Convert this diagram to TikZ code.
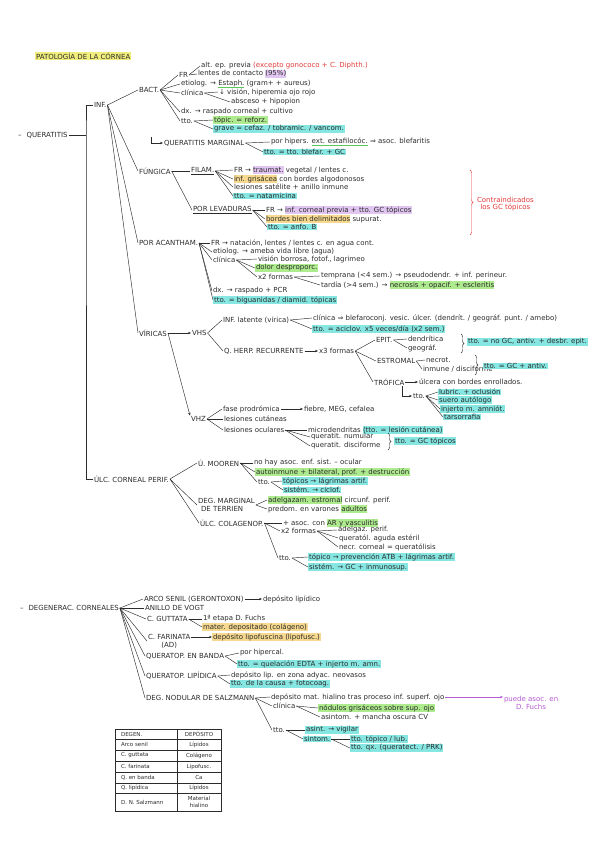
\documentclass[tikz,border=0pt]{standalone}
\usepackage{fontspec}
\setmainfont{DejaVu Sans}
\usetikzlibrary{arrows.meta}
\usetikzlibrary{decorations.pathreplacing}
\definecolor{ink}{HTML}{2B2B2B}
\definecolor{hlcyan}{HTML}{86E6E2}
\definecolor{hlgreen}{HTML}{AEEA8E}
\definecolor{hlyellow}{HTML}{F2EE7C}
\definecolor{hlorange}{HTML}{F6D88E}
\definecolor{hlpink}{HTML}{E2C6F2}
\definecolor{ulgreen}{HTML}{5CC85A}
\definecolor{inkred}{HTML}{E23A3A}
\definecolor{inkpurple}{HTML}{B35AD0}
\newcommand{\hlt}[2]{\setbox0\hbox{#2}\rlap{\color{#1}\rule[-1.7pt]{\wd0}{7.4pt}}\box0\relax}
\newcommand{\gul}[1]{\setbox0\hbox{#1}\rlap{\color{ulgreen}\rule[-1.6pt]{\wd0}{0.7pt}}\box0\relax}

\begin{document}
\begin{tikzpicture}[x=1pt,y=-1pt,color=ink,line width=0.45pt,
    every node/.style={anchor=west,inner xsep=0.8pt,inner ysep=0.6pt,font=\fontsize{7}{7.8}\selectfont},
    hlc/.style={fill=hlcyan}, hlg/.style={fill=hlgreen}, hlo/.style={fill=hlorange},
    flecha/.style={-{Stealth[length=3pt,width=2.4pt]}},
    llave/.style={decorate,decoration={brace,amplitude=3pt}}]
\useasboundingbox (0,0) rectangle (600,848);

\node[fill=hlyellow] (titulo) at (35,56) {PATOLOGÍA DE LA CÓRNEA};

% queratitis
\node (querat) at (17,135) {–\hspace{5pt}QUERATITIS};
\node (inf) at (93,105) {INF.};
\node (ulcp) at (93,479) {ÚLC. CORNEAL PERIF.};
\coordinate (tronco) at (86,135);
\draw (querat) -- (tronco);
\draw (inf.west) -| (tronco) |- (ulcp.west);

\node (bact) at (138,90) {BACT.};
\node (fung) at (138,171) {FÚNGICA};
\node (acanth) at (138,243) {POR ACANTHAM.};
\node (vir) at (138,333) {VÍRICAS};
\foreach \c in {bact,fung,acanth,vir} \draw (inf.east) -- (\c.west);

\node (fr1) at (178,75) {FR};
\node (etio1) at (180,84) {etiolog. → \gul{Estaph.} (gram+ + aureus)};
\node (clin1) at (180,93) {clínica};
\node (dx1) at (180,112) {dx. → raspado corneal + cultivo};
\node (tto1) at (180,121) {tto.};
\foreach \c in {fr1,etio1,clin1,dx1,tto1} \draw (bact.east) -- (\c.west);
\node (fr1a) at (200,66) {alt. ep. previa \textcolor{inkred}{(excepto gonococo + C. Diphth.)}};
\node (fr1b) at (197,74) {lentes de contacto \hlt{hlpink}{(95\%)}};
\foreach \c in {fr1a,fr1b} \draw (fr1.east) -- (\c.west);
\node (clin1a) at (218,92) {↓ visión, hiperemia ojo rojo};
\node (clin1b) at (230,102) {absceso + hipopion};
\foreach \c in {clin1a,clin1b} \draw (clin1.east) -- (\c.west);
\node[hlg] (tto1a) at (213,120) {tópic. = reforz.};
\node[hlc] (tto1b) at (213,129) {grave = cefaz. / tobramic. / vancom.};
\foreach \c in {tto1a,tto1b} \draw (tto1.east) -- (\c.west);

\coordinate (marg0) at (151,137);
\node (marg) at (163,143) {QUERATITIS MARGINAL};
\draw[flecha] (marg0) |- (marg.west);
\node (marga) at (270,142) {por hipers. \gul{ext. estafilocóc.} ⇒ asoc. blefaritis};
\node[hlc] (margb) at (263,152) {tto. = tto. blefar. + GC};
\foreach \c in {marga,margb} \draw (marg.east) -- (\c.west);

% fungicas
\node (filam) at (190,171) {\underline{FILAM.}};
\node (lev) at (192,210) {\underline{POR LEVADURAS}};
\foreach \c in {filam,lev} \draw (fung.east) -- (\c.west);
\node (filam1) at (233,170) {FR → \hlt{hlpink}{traumat.} vegetal / lentes c.};
\node (filam2) at (233,179) {\hlt{hlorange}{inf. grisácea} con bordes algodonosos};
\node (filam3) at (233,187) {lesiones satélite + anillo inmune};
\node[hlc] (filam4) at (233,196) {tto. = natamicina};
\foreach \c in {filam1,filam2,filam3,filam4} \draw (filam.east) -- (\c.west);
\node (lev1) at (265,210) {FR → \hlt{hlpink}{inf. corneal previa + tto. GC tópicos}};
\node (lev2) at (265,219) {\hlt{hlorange}{bordes bien delimitados} supurat.};
\node[hlc] (lev3) at (267,227) {tto. = anfo. B};
\foreach \c in {lev1,lev2,lev3} \draw (lev.east) -- (\c.west);
\draw[inkred,llave] (470,170) -- (470,235);
\node[text=inkred,align=center] (contra) at (476,204) {Contraindicados\\los GC tópicos};

% acanthamoeba
\node (acan1) at (210,243) {FR → natación, lentes / lentes c. en agua cont.};
\node (acan2) at (212,252) {etiolog. → ameba vida libre (agua)};
\node (acan3) at (212,260) {clínica};
\node (acan4) at (212,291) {dx. → raspado + PCR};
\node[hlc] (acan5) at (213,300) {tto. = biguanidas / diamid. tópicas};
\foreach \c in {acan1,acan2,acan3,acan4,acan5} \draw (acanth.east) -- (\c.west);
\node (acl1) at (257,259) {visión borrosa, fotof., lagrimeo};
\node[hlg] (acl2) at (255,268) {dolor desproporc.};
\node (acl3) at (257,277) {x2 formas};
\foreach \c in {acl1,acl2,acl3} \draw (acan3.east) -- (\c.west);
\node (forma1) at (320,276) {temprana (<4 sem.) → pseudodendr. + inf. perineur.};
\node (forma2) at (320,285) {tardía (>4 sem.) → \hlt{hlgreen}{necrosis + opacif. + escleritis}};
\foreach \c in {forma1,forma2} \draw (acl3.east) -- (\c.west);

% viricas
\node (vhs) at (191,333) {VHS};
\node (vhz) at (190,419) {VHZ};
\draw[flecha] (vir.east) -- (vhs.west);
\draw[flecha] (vir.east) -- (vhz.north west);
\node (vhs1) at (222,320) {INF. latente (vírica)};
\node (vhs2) at (223,351) {Q. HERP. RECURRENTE};
\foreach \c in {vhs1,vhs2} \draw (vhs.east) -- (\c.west);
\node (lat1) at (312,318) {clínica ⇒ blefaroconj. vesic. úlcer. (dendrít. / geográf. punt. / amebo)};
\node[hlc] (lat2) at (312,329) {tto. = aciclov. x5 veces/día (x2 sem.)};
\foreach \c in {lat1,lat2} \draw (vhs1.east) -- (\c.west);
\node (x3) at (318,351) {x3 formas};
\draw[flecha] (vhs2) -- (x3);
\node (epit) at (375,340) {EPIT.};
\node (estr) at (376,361) {ESTROMAL};
\node (trof) at (373,382) {TRÓFICA};
\foreach \c in {epit,estr,trof} \draw (x3.east) -- (\c.west);
\node (epit1) at (407,339) {dendrítica};
\node (epit2) at (407,348) {geográf.};
\foreach \c in {epit1,epit2} \draw (epit.east) -- (\c.west);
\draw[llave] (461,334) -- (461,353);
\node[hlc] (epitt) at (467,342) {tto. = no GC, antiv. + desbr. epit.};
\node (estr1) at (425,360) {necrot.};
\node (estr2) at (422,369) {inmune / disciforme};
\foreach \c in {estr1,estr2} \draw (estr.east) -- (\c.west);
\draw[llave] (475,355) -- (475,375);
\node[hlc] (estrt) at (483,366) {tto. = GC + antiv.};
\node (trof1) at (418,382) {úlcera con bordes enrollados.};
\draw[flecha] (trof) -- (trof1);
\node (troft) at (412,396) {tto.};
\draw[flecha] ([xshift=-3pt]trof.south east) |- (troft.west);
\node[hlc] (troft1) at (438,392) {lubric. + oclusión};
\node[hlc] (troft2) at (438,400) {suero autólogo};
\node[hlc] (troft3) at (440,409) {injerto m. amniót.};
\node[hlc] (troft4) at (443,417) {tarsorrafia};
\foreach \c in {troft1,troft2,troft3,troft4} \draw (troft.east) -- (\c.west);

\node (vhz1) at (222,409) {fase prodrómica};
\node (vhz2) at (223,419) {lesiones cutáneas};
\node (vhz3) at (223,430) {lesiones oculares};
\foreach \c in {vhz1,vhz2,vhz3} \draw (vhz.east) -- (\c.west);
\node (vhz1b) at (303,409) {fiebre, MEG, cefalea};
\draw[flecha] (vhz1) -- (vhz1b);
\node (ocu1) at (307,430) {microdendritas \hlt{hlcyan}{(tto. = lesión cutánea)}};
\node (ocu2) at (310,437) {queratit. numular};
\node (ocu3) at (310,446) {queratit. disciforme};
\foreach \c in {ocu1,ocu2,ocu3} \draw (vhz3.east) -- (\c.west);
\draw[llave] (388,433) -- (388,450);
\node[hlc] (ocut) at (394,441) {tto. = GC tópicos};

% ulcera corneal periferica
\node (moor) at (197,463) {Ú. MOOREN};
\node[align=left] (terr) at (197,505) {DEG. MARGINAL\\\hspace{3pt}DE TERRIEN};
\node (colg) at (199,523) {ÚLC. COLAGENOP.};
\foreach \c in {moor,terr,colg} \draw (ulcp.east) -- (\c.west);
\node (moor1) at (253,463) {no hay asoc. enf. sist. – ocular};
\node[hlg] (moor2) at (255,472) {autoinmune + bilateral, prof. + destrucción};
\node (moor3) at (257,482) {tto.};
\foreach \c in {moor1,moor2,moor3} \draw (moor.east) -- (\c.west);
\node[hlc] (moort1) at (282,481) {tópicos → lágrimas artif.};
\node[hlc] (moort2) at (283,490) {sistém. → ciclof.};
\foreach \c in {moort1,moort2} \draw (moor3.east) -- (\c.west);
\node (terr1) at (267,500) {\hlt{hlgreen}{adelgazam. estromal} circunf. perif.};
\node (terr2) at (267,509) {predom. en varones \hlt{hlgreen}{adultos}};
\foreach \c in {terr1,terr2} \draw (terr.east) -- (\c.west);
\node (colg1) at (282,523) {+ asoc. con \hlt{hlgreen}{AR y vasculitis}};
\node (colg2) at (280,531) {x2 formas};
\node (colg3) at (278,558) {tto.};
\foreach \c in {colg1,colg2,colg3} \draw (colg.east) -- (\c.west);
\node (colf1) at (337,530) {adelgaz. perif.};
\node (colf2) at (338,538) {queratól. aguda estéril};
\node (colf3) at (338,547) {necr. corneal = queratólisis};
\foreach \c in {colf1,colf2,colf3} \draw (colg2.east) -- (\c.west);
\node[hlc] (colt1) at (308,557) {tópico → prevención ATB + lágrimas artif.};
\node[hlc] (colt2) at (308,567) {sistém. → GC + inmunosup.};
\foreach \c in {colt1,colt2} \draw (colg3.east) -- (\c.west);

% degeneraciones
\node (degen) at (19,608) {–\hspace{5pt}DEGENERAC. CORNEALES};
\node (arco) at (143,599) {ARCO SENIL (GERONTOXON)};
\node (vogt) at (144,608) {ANILLO DE VOGT};
\node (gutt) at (146,619) {C. GUTTATA};
\node[align=center] (farin) at (147,641) {C. FARINATA\\(AD)};
\node (banda) at (145,656) {QUERATOP. EN BANDA};
\node (lipid) at (145,676) {QUERATOP. LIPÍDICA};
\node (salz) at (145,698) {DEG. NODULAR DE SALZMANN};
\foreach \c in {arco,vogt,gutt,farin,banda,lipid,salz} \draw (degen.east) -- (\c.west);
\node (arco1) at (262,599) {depósito lipídico};
\draw[flecha] (arco) -- (arco1);
\node (gutt1) at (202,619) {1ª etapa D. Fuchs};
\node[hlo] (gutt2) at (202,627) {mater. depositado (colágeno)};
\foreach \c in {gutt1,gutt2} \draw (gutt.east) -- (\c.west);
\node[hlo] (farin1) at (212,637) {depósito lipofuscina (lipofusc.)};
\draw[flecha] (farin.east |- farin1.west) -- (farin1.west);
\node (banda1) at (239,653) {por hipercal.};
\node[hlc] (banda2) at (237,664) {tto. = quelación EDTA + injerto m. amn.};
\foreach \c in {banda1,banda2} \draw (banda.east) -- (\c.west);
\node (lipid1) at (230,675) {depósito lip. en zona adyac. neovasos};
\node[hlc] (lipid2) at (230,684) {tto. de la causa + fotocoag.};
\foreach \c in {lipid1,lipid2} \draw (lipid.east) -- (\c.west);
\node (salz1) at (270,697) {depósito mat. hialino tras proceso inf. superf. ojo};
\node (salz2) at (272,706) {clínica};
\node (salz3) at (272,730) {tto.};
\foreach \c in {salz1,salz2,salz3} \draw (salz.east) -- (\c.west);
\node[text=inkpurple,align=center] (salzf) at (503,703) {puede asoc. en\\D. Fuchs};
\draw[flecha,inkpurple] (salz1.east) -- (salzf.west |- salz1.east);
\node[hlg] (salzc1) at (318,708) {nódulos grisáceos sobre sup. ojo};
\node (salzc2) at (320,717) {asintom. + mancha oscura CV};
\foreach \c in {salzc1,salzc2} \draw (salz2.east) -- (\c.west);
\node[hlc] (salzt1) at (305,730) {asint. → vigilar};
\node[hlc] (salzt2) at (303,739) {sintom.};
\foreach \c in {salzt1,salzt2} \draw (salz3.east) -- (\c.west);
\node[hlc] (salzs1) at (350,739) {tto. tópico / lub.};
\node[hlc] (salzs2) at (350,748) {tto. qx. (queratect. / PRK)};
\foreach \c in {salzs1,salzs2} \draw (salzt2.east) -- (\c.west);

% tabla
\draw[line width=0.8pt] (115,729) rectangle (221,811);
\foreach \y in {739,750,761,772,783,793} \draw (115,\y) -- (221,\y);
\draw[line width=0.7pt] (177,729) -- (177,811);
\foreach \y/\a/\b [count=\i] in {734/DEGEN./DEPÓSITO, 744.5/Arco senil/Lípidos, 755.5/C. guttata/Colágeno, 766.5/C. farinata/Lipofusc., 777.5/Q. en banda/Ca, 788/Q. lipídica/Lípidos, 802/D. N. Salzmann/{Material\\hialino}} {
  \node[font=\fontsize{5.5}{6.2}\selectfont] (deg\i) at (120,\y) {\a};
  \node[anchor=center,align=center,font=\fontsize{5.5}{6.2}\selectfont] (dep\i) at (199,\y) {\b};
}
\end{tikzpicture}
\end{document}
